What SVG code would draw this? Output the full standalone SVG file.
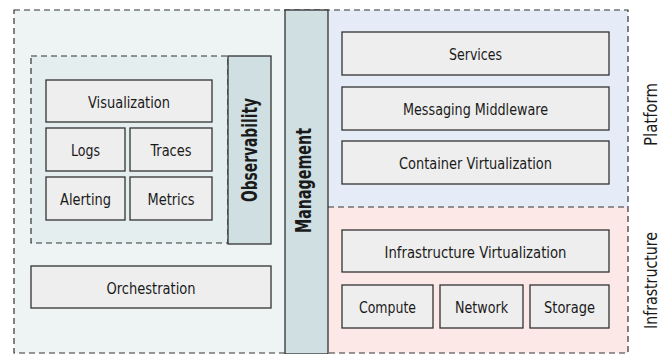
<svg xmlns="http://www.w3.org/2000/svg" width="666" height="354" viewBox="0 0 666 354">
  <style>
    text { font-family: "DejaVu Sans Condensed", "DejaVu Sans", "Liberation Sans", sans-serif; fill: #1a1a1a; }
    .lbl { font-size: 16px; text-anchor: middle; }
    .side { font-size: 18px; text-anchor: middle; }
    .bar-lbl { font-size: 21px; font-weight: bold; text-anchor: middle; }
    .box { fill: #eeeeee; stroke: #333333; stroke-width: 1.3; }
    .bar { fill: #cfdfe2; stroke: #333333; stroke-width: 1.3; }
    .dash { stroke: #333333; stroke-width: 1.2; stroke-dasharray: 6 4; }
  </style>

  <!-- layer backgrounds -->
  <g id="layers">
    <rect x="14" y="10" width="314" height="343" fill="#eef4f4"/>
    <rect x="328" y="10" width="300" height="197" fill="#e6ecf7"/>
    <rect x="328" y="207" width="300" height="146" fill="#fce8e7"/>
    <rect x="14" y="10" width="614" height="343" fill="none" class="dash"/>
    <line x1="328" y1="207" x2="628" y2="207" class="dash"/>
  </g>

  <!-- observability group -->
  <g id="observability-group">
    <rect x="31" y="56" width="197" height="187" fill="#e4eeee" class="dash"/>
  </g>

  <g id="visualization">
    <rect class="box" x="46" y="80" width="166" height="42"/>
    <text class="lbl" x="129" y="107.5" textLength="82" lengthAdjust="spacingAndGlyphs">Visualization</text>
  </g>
  <g id="logs">
    <rect class="box" x="46" y="128" width="79" height="43"/>
    <text class="lbl" x="85.5" y="156" textLength="29" lengthAdjust="spacingAndGlyphs">Logs</text>
  </g>
  <g id="traces">
    <rect class="box" x="130" y="128" width="82" height="43"/>
    <text class="lbl" x="171" y="156" textLength="41" lengthAdjust="spacingAndGlyphs">Traces</text>
  </g>
  <g id="alerting">
    <rect class="box" x="46" y="177" width="79" height="43"/>
    <text class="lbl" x="85.5" y="204.5" textLength="51" lengthAdjust="spacingAndGlyphs">Alerting</text>
  </g>
  <g id="metrics">
    <rect class="box" x="130" y="177" width="82" height="43"/>
    <text class="lbl" x="171" y="204.5" textLength="47" lengthAdjust="spacingAndGlyphs">Metrics</text>
  </g>

  <g id="observability">
    <rect class="bar" x="228" y="56" width="43" height="188"/>
    <text class="bar-lbl" transform="translate(256.5,150) rotate(-90)" textLength="104" lengthAdjust="spacingAndGlyphs">Observability</text>
  </g>

  <g id="orchestration">
    <rect class="box" x="31" y="266" width="240" height="42"/>
    <text class="lbl" x="151" y="293.5" textLength="89" lengthAdjust="spacingAndGlyphs">Orchestration</text>
  </g>

  <g id="management">
    <rect class="bar" x="285" y="10" width="43" height="344"/>
    <text class="bar-lbl" transform="translate(310.5,180.5) rotate(-90)" textLength="105" lengthAdjust="spacingAndGlyphs">Management</text>
  </g>

  <!-- platform layer -->
  <g id="services">
    <rect class="box" x="342" y="32" width="267" height="43"/>
    <text class="lbl" x="475.5" y="59.5" textLength="53" lengthAdjust="spacingAndGlyphs">Services</text>
  </g>
  <g id="messaging-middleware">
    <rect class="box" x="342" y="87" width="267" height="43"/>
    <text class="lbl" x="475.5" y="114.5" textLength="145" lengthAdjust="spacingAndGlyphs">Messaging Middleware</text>
  </g>
  <g id="container-virtualization">
    <rect class="box" x="342" y="141" width="267" height="43"/>
    <text class="lbl" x="475.5" y="168.5" textLength="153" lengthAdjust="spacingAndGlyphs">Container Virtualization</text>
  </g>
  <g id="platform">
    <text class="side" transform="translate(657,114.5) rotate(-90)" textLength="63" lengthAdjust="spacingAndGlyphs">Platform</text>
  </g>

  <!-- infrastructure layer -->
  <g id="infrastructure-virtualization">
    <rect class="box" x="342" y="230" width="267" height="42"/>
    <text class="lbl" x="475.5" y="257.5" textLength="182" lengthAdjust="spacingAndGlyphs">Infrastructure Virtualization</text>
  </g>
  <g id="compute">
    <rect class="box" x="342" y="285" width="91" height="43"/>
    <text class="lbl" x="387.5" y="312.5" textLength="57" lengthAdjust="spacingAndGlyphs">Compute</text>
  </g>
  <g id="network">
    <rect class="box" x="440" y="285" width="83" height="43"/>
    <text class="lbl" x="481.5" y="312.5" textLength="53" lengthAdjust="spacingAndGlyphs">Network</text>
  </g>
  <g id="storage">
    <rect class="box" x="530" y="285" width="79" height="43"/>
    <text class="lbl" x="569.5" y="312.5" textLength="51" lengthAdjust="spacingAndGlyphs">Storage</text>
  </g>
  <g id="infrastructure">
    <text class="side" transform="translate(657,280.5) rotate(-90)" textLength="97" lengthAdjust="spacingAndGlyphs">Infrastructure</text>
  </g>

  <g id="connectors"></g>
</svg>
